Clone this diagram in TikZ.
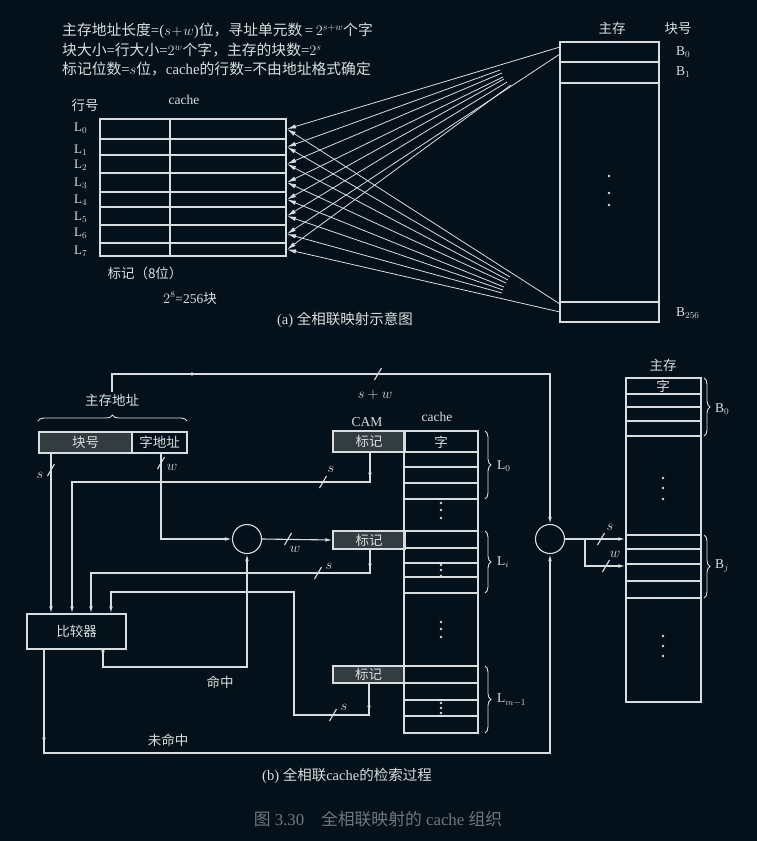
\documentclass[tikz,border=0pt]{standalone}
\usepackage{fontspec}
\setmainfont{Liberation Serif}
\newfontfamily\cjk{Noto Sans CJK SC}
\newcommand\hanzi[1]{{\cjk #1}}
\usetikzlibrary{arrows.meta,calc,decorations.pathreplacing,decorations.markings}
\definecolor{bg}{HTML}{04111A}
\definecolor{ink}{HTML}{DADDDD}
\definecolor{shade}{HTML}{323C41}
\definecolor{capgray}{HTML}{6E777C}
\newcommand\busmark[1]{\draw[wire] (#1) ++(-3.5,6) -- ++(7,-12);}

\begin{document}
\begin{tikzpicture}[x=1pt,y=-1pt,>={Latex[length=7pt,width=3.6pt]},
  wire/.style={draw=ink,line width=1.1pt},
  fan/.style={draw=ink,line width=0.8pt,-{Latex[length=9pt,width=4.4pt]}},
  txt/.style={text=ink,inner sep=2pt,font=\fontsize{13.5}{16}\selectfont},
  zh/.style={txt,font=\cjk\fontsize{13.5}{16}\selectfont},
  hdr/.style={txt,anchor=west,font=\fontsize{14.8}{17}\selectfont},
  cellbox/.style={draw=ink,line width=1.1pt,inner sep=0pt,minimum height=21pt,
    text=ink,font=\cjk\fontsize{13.5}{16}\selectfont},
  tagbox/.style={cellbox,fill=shade},
  mux/.style={circle,draw=ink,line width=1.1pt,minimum size=29pt,inner sep=0pt},
  brc/.style={draw=ink,line width=0.9pt,decorate,decoration={brace,amplitude=6pt}},
  midtip/.style={postaction={decorate,decoration={markings,
    mark=at position #1 with {\arrow{>}}}}}]
  \fill[bg] (0,0) rectangle (757,841);
  \useasboundingbox (0,0) rectangle (757,841);

  % (a) fully associative mapping
  \node[hdr] (fmla1) at (60,31) {\hanzi{主存地址长度}=($s\!+\!w$)\hanzi{位，寻址单元数}\,=\,$2^{s+w}$\hanzi{个字}};
  \node[hdr] (fmla2) at (60,50) {\hanzi{块大小}=\hanzi{行大小}=$2^w$\hanzi{个字，主存的块数}=$2^s$};
  \node[hdr] (fmla3) at (60,69) {\hanzi{标记位数}=$s$\hanzi{位，}cache\hanzi{的行数}=\hanzi{不由地址格式确定}};
  \node[zh] (hh) at (85,105) {行号};
  \node[txt] (cta) at (184,100) {cache};
  \draw[wire] (100,119) rectangle (286,256);
  \draw[wire] (170,119) -- (170,256);
  \foreach \y in {139,155,173,192,207,225,243} \draw[wire] (100,\y) -- (286,\y);
  \foreach \i/\y/\ly in {0/129/128,1/147/150,2/164/165,3/182.5/183,4/199.5/200,5/216/217,6/234/233,7/249.5/251}{
    \coordinate (r\i) at (287,\y);
    \node[txt,anchor=west,font=\fontsize{13}{15}\selectfont] (lno\i) at (72,\ly) {L$_{\i}$};
  }
  \foreach \i/\ux/\uy in {0/560/47,1/500/70,2/502/73,3/503/77,4/504/79,5/507/82,6/560/54,7/511/85}{
    \coordinate (u\i) at (\ux,\uy);
    \draw[fan] (u\i) -- (r\i);
  }
  \foreach \i/\dx/\dy in {0/560/304,1/510/277,2/508/280,3/506/283,4/504/287,5/503/290,6/502/293,7/560/312}{
    \coordinate (d\i) at (\dx,\dy);
    \draw[fan] (d\i) -- (r\i);
  }
  \draw[wire] (560,42) rectangle (659,322);
  \foreach \y in {62,83,302} \draw[wire] (560,\y) -- (659,\y);
  \foreach \y in {176,193,205} \fill[ink] (609,\y) circle (1.3pt);
  \node[zh] (zca) at (612,28) {主存};
  \node[zh] (khz) at (678,28) {块号};
  \node[txt,anchor=west] (ba0) at (674,52) {B$_0$};
  \node[txt,anchor=west] (ba1) at (674,72) {B$_1$};
  \node[txt,anchor=west] (ban) at (674,313) {B$_{256}$};
  \node[zh] (bj8) at (145,273) {标记（8位）};
  \node[txt] (n256) at (190,298) {$2^8$=256\hanzi{块}};
  \node[txt,font=\fontsize{14.5}{17}\selectfont] (tta) at (345,320) {(a) \hanzi{全相联映射示意图}};

  % (b) lookup in fully associative cache
  \node[zh] (zcdz) at (112,400) {主存地址};
  \draw[brc] (38,421) -- (187,421);
  \node[tagbox,minimum width=93pt] (kh) at (85.5,442.5) {块号};
  \node[cellbox,minimum width=55pt] (zdz) at (159.5,442.5) {字地址};
  \node[cellbox,minimum width=99pt,minimum height=35pt] (cmp) at (76.5,631.5) {比较器};
  \node[mux] (c1) at (247,539) {};
  \node[mux] (c2) at (550,539) {};
  \node[tagbox,minimum width=72pt,minimum height=21pt] (t0) at (369,441.5) {标记};
  \node[tagbox,minimum width=72pt,minimum height=18pt] (ti) at (369,540) {标记};
  \node[tagbox,minimum width=71pt,minimum height=17pt] (tm) at (368.5,674.5) {标记};
  \node[txt] (cam) at (367,422) {CAM};
  \node[txt] (ctb) at (437,417) {cache};

  \draw[wire] (404,431) rectangle (478,733);
  \foreach \y in {452,467,483,499,531,548,563,577,593,666,683,700,716} \draw[wire] (404,\y) -- (478,\y);
  \node[zh] (zi1) at (441,442) {字};
  \foreach \y in {503,510,518,565,570,576,622,629,637,703,708,713} \fill[ink] (441,\y) circle (1.3pt);
  \draw[brc] (485,431) -- (485,499);
  \draw[brc] (485,531) -- (485,593);
  \draw[brc] (485,666) -- (485,733);
  \node[txt,anchor=west] (lb0) at (495,466) {L$_0$};
  \node[txt,anchor=west] (lbi) at (495,562) {L$_i$};
  \node[txt,anchor=west] (lbm) at (495,700) {L$_{m-1}$};

  \node[draw=ink,line width=1.1pt,minimum width=75pt,minimum height=324pt,inner sep=0pt] (mem) at (663.5,540) {};
  \foreach \y in {394,407,421,436,535,549,564,581,598} \draw[wire] (626,\y) -- (701,\y);
  \node[zh] (zcb) at (663,365) {主存};
  \node[zh] (zi2) at (663,386) {字};
  \foreach \y in {478,488,499,636,646,656} \fill[ink] (663,\y) circle (1.3pt);
  \draw[brc] (704,378) -- (704,436);
  \draw[brc] (704,535) -- (704,598);
  \node[txt,anchor=west] (bb0) at (713,409) {B$_0$};
  \node[txt,anchor=west] (bbj) at (713,566) {B$_j$};

  % connectors
  \draw[wire,->,midtip=104pt] (zcdz.north) -- (zcdz.north |- 0,374) -- (c2.north |- 0,374) -- (c2.north);
  \busmark{378,374}
  \node[txt] (lsw) at (375,395) {$s+w$};
  \draw[wire,->] (kh.south -| 51,0) -- (cmp.north -| 51,0);
  \busmark{51,470}
  \node[txt] (ls1) at (40,475) {$s$};
  \draw[wire,->] (zdz.south -| 161,0) |- (c1.west);
  \busmark{161,463}
  \node[txt] (lw1) at (172,467) {$w$};
  \draw[wire,->] (c1.east) -- (ti.west);
  \busmark{288,539}
  \node[txt] (lw2) at (295,549) {$w$};
  \draw[wire,->,midtip=27pt] (t0.south -| 370,0) -- (370,482) -- (72,482) -- (cmp.north -| 72,0);
  \busmark{323,482}
  \node[txt] (ls2) at (331,469) {$s$};
  \draw[wire,->,midtip=21pt] (ti.south -| 370,0) -- (370,573) -- (91,573) -- (cmp.north -| 91,0);
  \busmark{318,573}
  \node[txt] (ls3) at (329,566) {$s$};
  \draw[wire,->,midtip=29pt] (tm.south -| 369,0) -- (369,715) -- (294,715) -- (294,592) -- (111,592) -- (cmp.north -| 111,0);
  \busmark{333,715}
  \node[txt] (ls4) at (344,707) {$s$};
  \draw[wire,->,midtip=8pt] (cmp.south -| 103,0) -- (103,667) -| (c1.south);
  \node[zh] (hit) at (220,682) {命中};
  \draw[wire,->,midtip=95pt] (cmp.south -| 44,0) -- (44,753) -| (c2.south);
  \node[zh] (miss) at (168,740) {未命中};
  \coordinate (br) at (585,539);
  \draw[wire,->] (c2.east) -- (c2.east -| mem.west);
  \draw[wire,->] (br) |- (mem.west |- 0,566);
  \busmark{601,539}
  \node[txt] (ls5) at (610,527) {$s$};
  \busmark{606,566}
  \node[txt] (lw3) at (615,554) {$w$};

  \node[txt,font=\fontsize{14.5}{17}\selectfont] (ttb) at (347,776) {(b) \hanzi{全相联}cache\hanzi{的检索过程}};
  \node[txt,text=capgray,font=\fontsize{16.8}{19}\selectfont] (cap) at (378,819) {\hanzi{图} 3.30\quad \hanzi{全相联映射的} cache \hanzi{组织}};
\end{tikzpicture}
\end{document}
